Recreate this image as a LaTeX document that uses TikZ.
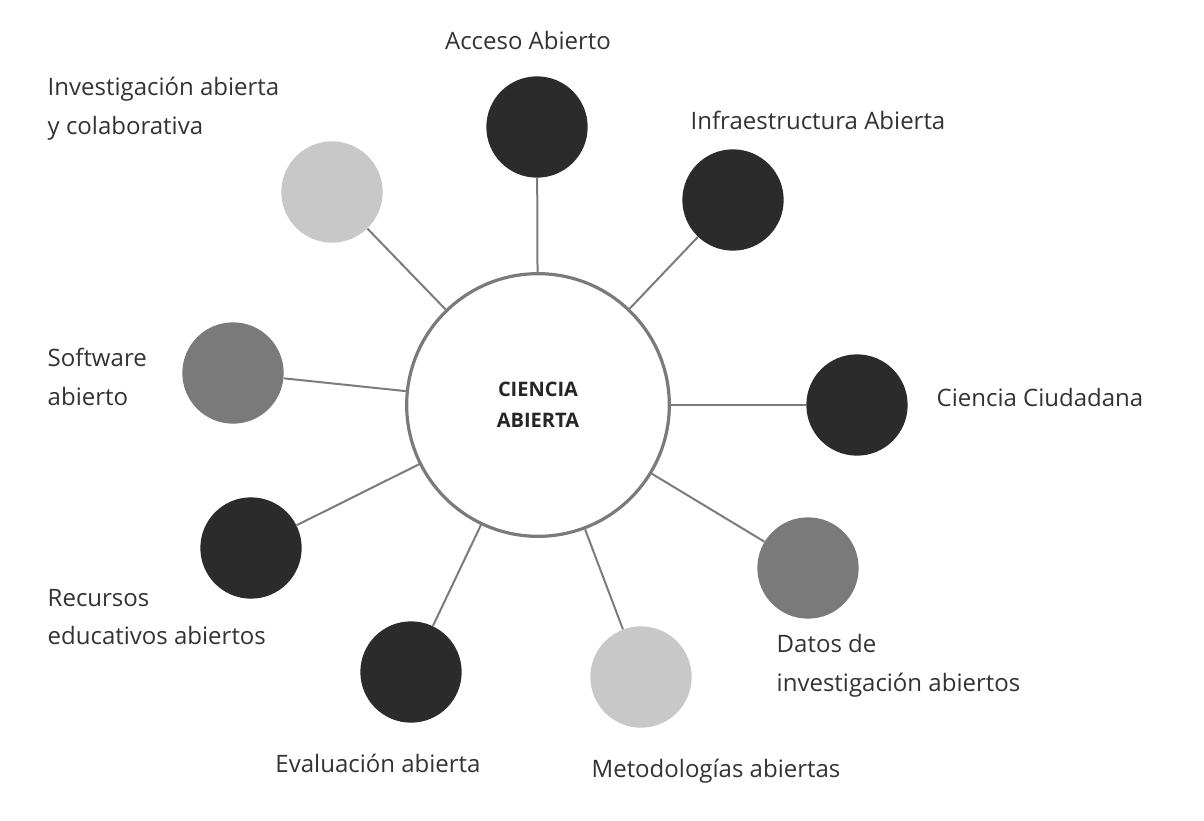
\documentclass[tikz,border=0pt]{standalone}
\usepackage{fontspec}
\setmainfont{Open Sans}
\definecolor{dk}{HTML}{2B2B2B}
\definecolor{md}{HTML}{7A7A7A}
\definecolor{lt}{HTML}{C8C8C8}
\definecolor{ln}{HTML}{7C7C7C}
\begin{document}
\begin{tikzpicture}[x=0.75pt,y=-0.75pt,
  sat/.style={circle,minimum size=76pt,inner sep=0pt},
  lab/.style={font=\fontsize{18}{29}\selectfont,text=black!80},
  conn/.style={draw=ln,line width=1.5pt}]
\useasboundingbox[fill=white] (0,0) rectangle (1204,821);
\node[circle,draw=md,line width=2.4pt,minimum size=197pt,inner sep=0pt,align=center,
  font=\bfseries\fontsize{15}{23}\selectfont,text=black!85] (c) at (538,405) {CIENCIA\\ABIERTA};
\node[sat,fill=dk] (a) at (537,127) {};
\node[sat,fill=dk] (b) at (733,200) {};
\node[sat,fill=dk] (d) at (857,405) {};
\node[sat,fill=md] (e) at (808,568) {};
\node[sat,fill=lt] (f) at (641,677) {};
\node[sat,fill=dk] (g) at (411,672) {};
\node[sat,fill=dk] (h) at (251,548) {};
\node[sat,fill=md] (i) at (233,373) {};
\node[sat,fill=lt] (j) at (332,192) {};
\foreach \n in {a,b,d,e,f,g,h,i,j} \draw[conn] (c) -- (\n);
\node[lab] (la) at (528,40) {Acceso Abierto};
\node[lab] (lb) at (818,120) {Infraestructura Abierta};
\node[lab] (ld) at (1040,397) {Ciencia Ciudadana};
\node[lab,anchor=west,align=left] (le) at (772,666) {Datos de\\investigación abiertos};
\node[lab] (lf) at (716,771) {Metodologías abiertas};
\node[lab] (lg) at (378,763) {Evaluación abierta};
\node[lab,anchor=west,align=left] (lh) at (43,617) {Recursos\\educativos abiertos};
\node[lab,anchor=west,align=left] (li) at (43,377) {Software\\abierto};
\node[lab,anchor=west,align=left] (lj) at (43,109) {Investigación abierta\\y colaborativa};
\end{tikzpicture}
\end{document}
